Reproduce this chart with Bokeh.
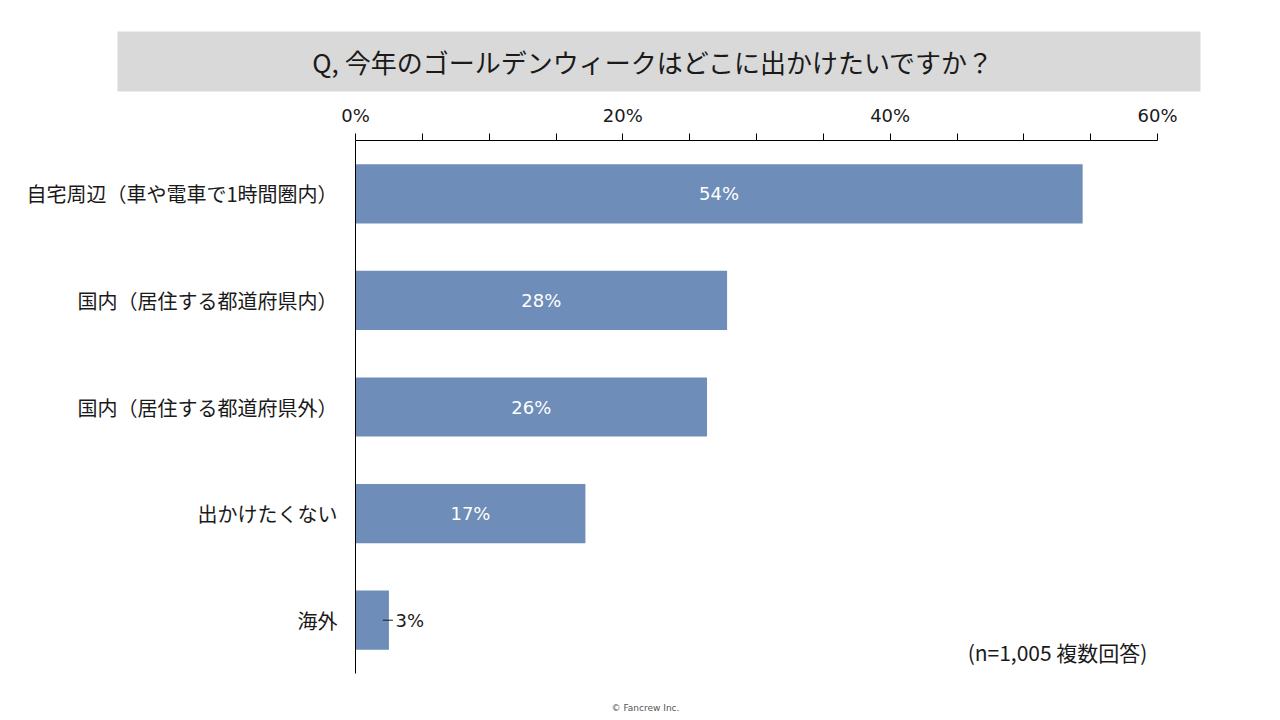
from bokeh.plotting import figure
from bokeh.layouts import column
from bokeh.models import Range1d, FactorRange, FixedTicker, ColumnDataSource
from bokeh.core.properties import value
from bokeh.embed import file_html
from bokeh.resources import INLINE

title_text = "Q, 今年のゴールデンウィークはどこに出かけたいですか？"
categories = ["自宅周辺（車や電車で1時間圏内）", "国内（居住する都道府県内）",
              "国内（居住する都道府県外）", "出かけたくない", "海外"]
values = [54.4, 27.8, 26.3, 17.2, 2.5]
value_labels = ["54%", "28%", "26%", "17%", "3%"]
tick_values = [0, 5, 10, 15, 20, 25, 30, 35, 40, 45, 50, 55, 60]
tick_labels = ["0%", "", "", "", "20%", "", "", "", "40%", "", "", "", "60%"]
note_text = "(n=1,005  複数回答)"
footer_text = "© Fancrew Inc."

BAR = "#6E8DB8"
TXT = "#1a1a1a"
JP = "Noto Sans CJK JP"


def no_align(fig):
    try:
        fig.frame_align = False
    except Exception:
        pass


def blank(h):
    f = figure(width=1280, height=h, output_backend="svg", toolbar_location=None,
               x_range=Range1d(0, 1280), y_range=Range1d(h, 0),
               x_axis_type=None, y_axis_type=None,
               min_border=0, min_border_left=0, min_border_right=0,
               min_border_top=0, min_border_bottom=0)
    f.outline_line_color = None
    f.grid.visible = False
    no_align(f)
    return f


# title panel
t = blank(100)
t.quad(left=[117], right=[1200], top=[31], bottom=[91], fill_color="#D9D9D9", line_color=None)
t.text(x=[653], y=[61], text=[title_text], text_font=value(JP), text_font_size="26px",
       text_color=TXT, text_align="center", text_baseline="middle")

# main chart
p = figure(width=1280, height=600, output_backend="svg", toolbar_location=None,
           x_range=Range1d(0, 60), y_range=FactorRange(*categories[::-1]),
           x_axis_location="above",
           min_border_left=355, min_border_right=123, min_border_top=40, min_border_bottom=27)
p.outline_line_color = None
p.grid.visible = False
no_align(p)

src = ColumnDataSource(dict(cat=categories, val=values))
p.hbar(y="cat", left=0, right="val", height=0.555, source=src, fill_color=BAR, line_color=None)

inside = [i for i, v in enumerate(values) if v >= 10]
outside = [i for i, v in enumerate(values) if v < 10]
p.text(x=[values[i] / 2 for i in inside], y=[categories[i] for i in inside],
       text=[value_labels[i] for i in inside], text_color="white",
       text_font=value("DejaVu Sans"), text_font_size="18px",
       text_align="center", text_baseline="middle")
p.segment(x0=[values[i] - 0.45 for i in outside], x1=[values[i] + 0.3 for i in outside],
          y0=[categories[i] for i in outside], y1=[categories[i] for i in outside],
          line_color=TXT, line_width=1)
p.text(x=[values[i] + 0.5 for i in outside], y=[categories[i] for i in outside],
       text=[value_labels[i] for i in outside], text_color=TXT,
       text_font=value("DejaVu Sans"), text_font_size="18px",
       text_align="left", text_baseline="middle")

p.text(x=[59.6], y=[(categories[-1], -0.3)], text=[note_text], text_color=TXT,
       text_font=value(JP), text_font_size="21px", text_align="right", text_baseline="middle")

xa = p.xaxis[0]
xa.ticker = FixedTicker(ticks=tick_values, minor_ticks=[])
xa.major_label_overrides = {t_: l for t_, l in zip(tick_values, tick_labels)}
xa.major_tick_out = 7
xa.major_tick_in = 0
xa.minor_tick_line_color = None
xa.axis_line_color = "black"
xa.major_tick_line_color = "black"
xa.major_label_text_font = "DejaVu Sans"
xa.major_label_text_font_size = "18px"
xa.major_label_text_color = TXT
xa.major_label_standoff = 8

ya = p.yaxis[0]
ya.major_tick_line_color = None
ya.minor_tick_line_color = None
ya.axis_line_color = "black"
ya.major_label_text_font = JP
ya.major_label_text_font_size = "20px"
ya.major_label_text_color = TXT
ya.major_label_standoff = 12

# footer
f = blank(20)
f.text(x=[645], y=[7], text=[footer_text], text_font=value("DejaVu Sans"), text_font_size="9px",
       text_color="#555555", text_align="center", text_baseline="middle")

layout = column(t, p, f, spacing=0)
open("out.html", "w").write(file_html(layout, INLINE))
